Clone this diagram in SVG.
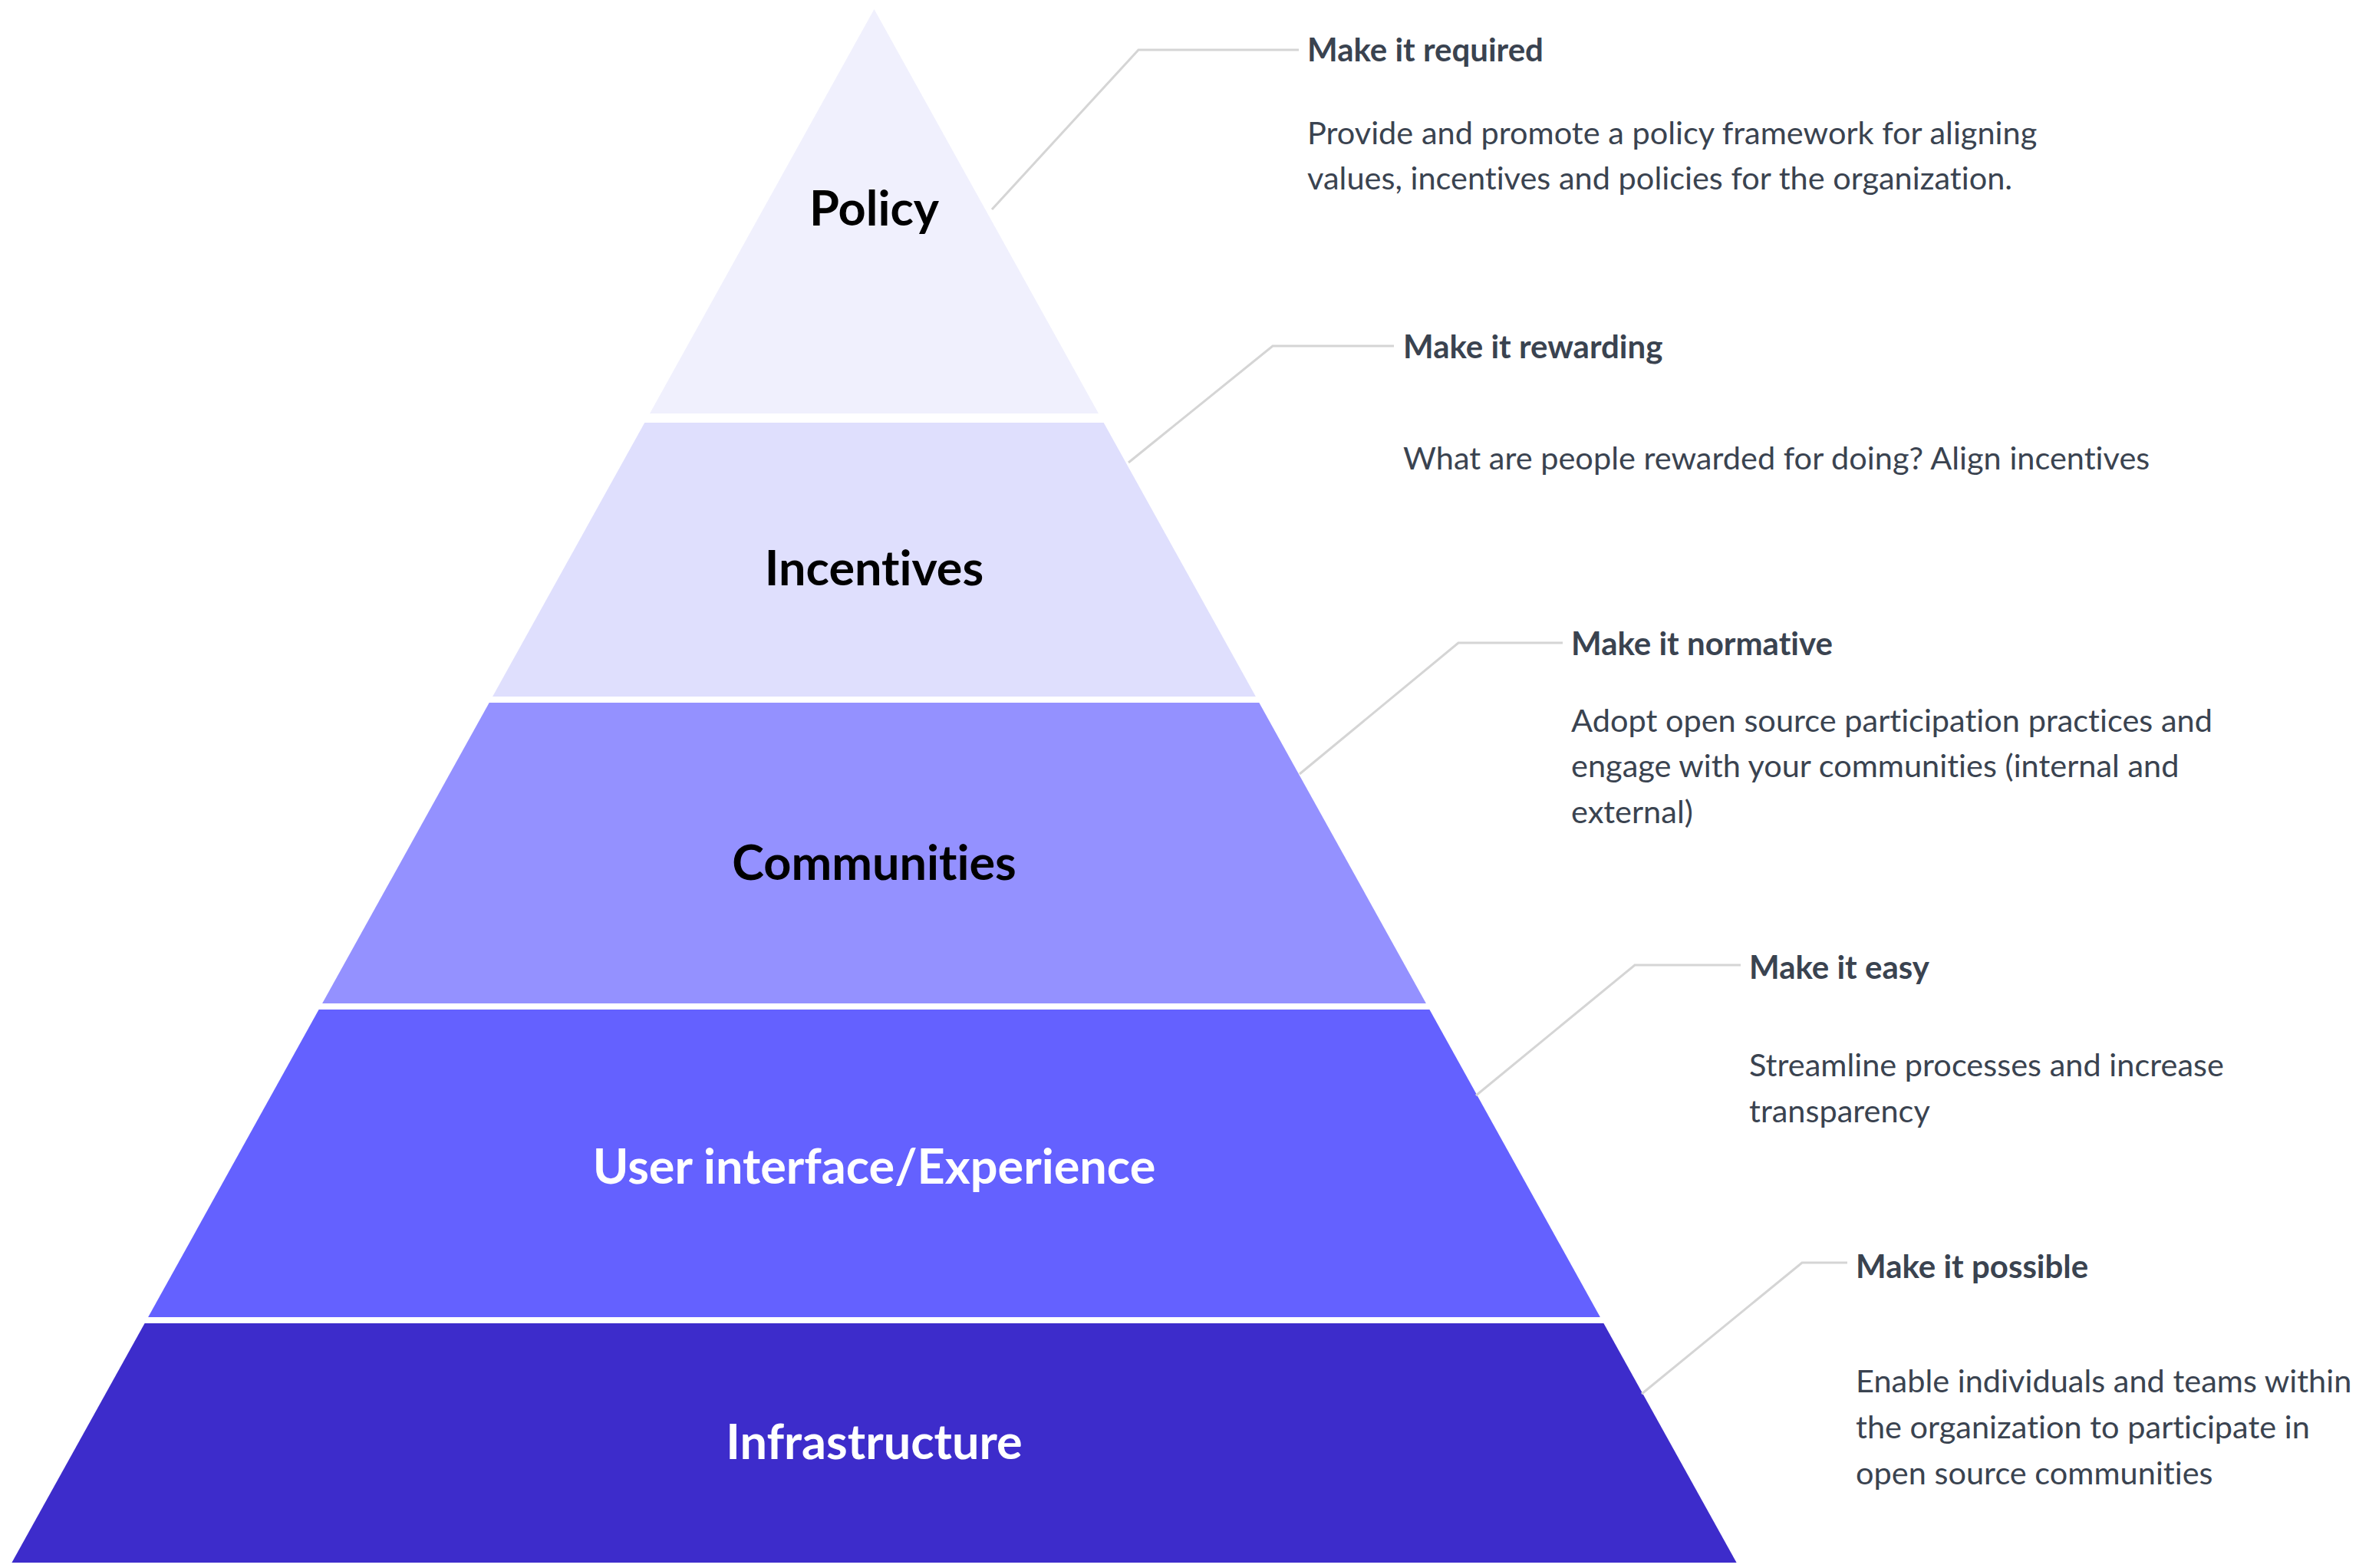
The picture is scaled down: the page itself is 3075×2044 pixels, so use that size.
<svg xmlns="http://www.w3.org/2000/svg" width="3075" height="2044" viewBox="0 0 3075 2044">
  <style>
    text { font-variant-ligatures: none; }
    .tier-label { font-family: Lato, "Liberation Sans", sans-serif; font-weight: 700; font-size: 63px; text-anchor: middle; }
    .dark { fill: #000000; }
    .light { fill: #ffffff; }
    .title { font-family: Lato, "Liberation Sans", sans-serif; font-weight: 700; font-size: 42px; fill: #3a4350; }
    .desc { font-family: Lato, "Liberation Sans", sans-serif; font-weight: 400; font-size: 41.5px; fill: #3a4350; }
    .leader { fill: none; stroke: #d5d5d5; stroke-width: 3; stroke-linejoin: miter; }
  </style>
  <rect width="3075" height="2044" fill="#ffffff"/>

  <!-- pyramid tiers, top to bottom -->
  <g id="tier-policy">
    <polygon points="1139.5,12 1432,539 847,539" fill="#F0F0FD"/>
    <text class="tier-label dark" x="1139.5" y="294">Policy</text>
  </g>
  <g id="tier-incentives">
    <polygon points="840.3,551 1438.7,551 1636.9,908 642.1,908" fill="#DFDFFD"/>
    <text class="tier-label dark" x="1139.5" y="763">Incentives</text>
  </g>
  <g id="tier-communities">
    <polygon points="637.7,916 1641.3,916 1858.9,1308 420.1,1308" fill="#9491FF"/>
    <text class="tier-label dark" x="1139.5" y="1147">Communities</text>
  </g>
  <g id="tier-ux">
    <polygon points="415.6,1316 1863.4,1316 2085.9,1717 193.1,1717" fill="#6461FF"/>
    <text class="tier-label light" x="1139.5" y="1543">User interface/Experience</text>
  </g>
  <g id="tier-infrastructure">
    <polygon points="188.6,1725 2090.4,1725 2263.6,2037 15.4,2037" fill="#3D2CCB"/>
    <text class="tier-label light" x="1139.5" y="1902">Infrastructure</text>
  </g>

  <!-- leader lines from each tier to its annotation -->
  <g id="connectors">
    <polyline class="leader" points="1293,273 1484,65 1693,65"/>
    <polyline class="leader" points="1471,603 1659,451 1817,451"/>
    <polyline class="leader" points="1694,1009 1901,838 2037,838"/>
    <polyline class="leader" points="1924,1428 2131,1258 2269,1258"/>
    <polyline class="leader" points="2140,1817 2349,1646 2408,1646"/>
  </g>

  <!-- annotations -->
  <g id="note-required">
    <text class="title" x="1704" y="80">Make it required</text>
    <text class="desc" x="1704" y="188">Provide and promote a policy framework for aligning</text>
    <text class="desc" x="1704" y="247">values, incentives and policies for the organization.</text>
  </g>
  <g id="note-rewarding">
    <text class="title" x="1829" y="467">Make it rewarding</text>
    <text class="desc" x="1829" y="612">What are people rewarded for doing? Align incentives</text>
  </g>
  <g id="note-normative">
    <text class="title" x="2048" y="854">Make it normative</text>
    <text class="desc" x="2048" y="954">Adopt open source participation practices and</text>
    <text class="desc" x="2048" y="1013">engage with your communities (internal and</text>
    <text class="desc" x="2048" y="1073">external)</text>
  </g>
  <g id="note-easy">
    <text class="title" x="2280" y="1276">Make it easy</text>
    <text class="desc" x="2280" y="1403">Streamline processes and increase</text>
    <text class="desc" x="2280" y="1463">transparency</text>
  </g>
  <g id="note-possible">
    <text class="title" x="2419" y="1666">Make it possible</text>
    <text class="desc" x="2419" y="1815">Enable individuals and teams within</text>
    <text class="desc" x="2419" y="1875">the organization to participate in</text>
    <text class="desc" x="2419" y="1935">open source communities</text>
  </g>
</svg>
